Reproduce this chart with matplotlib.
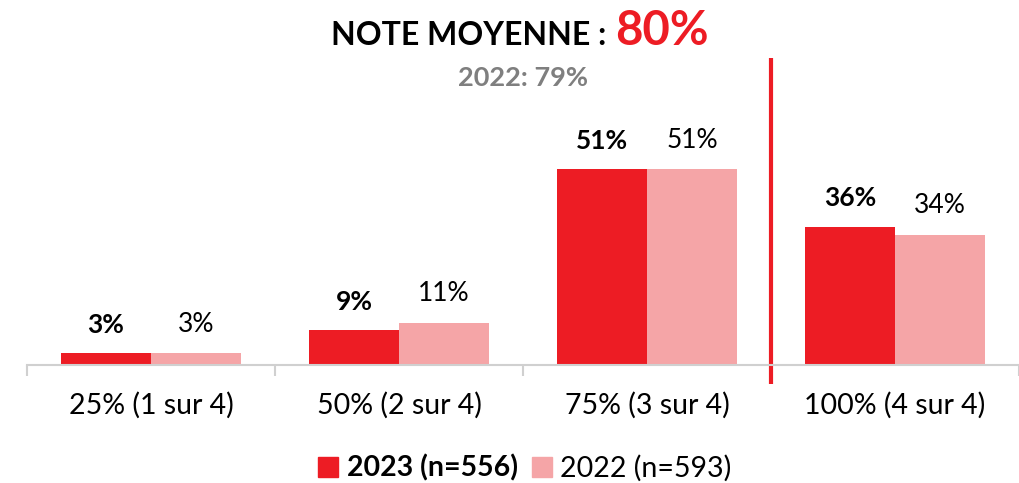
import numpy as np
import matplotlib.pyplot as plt
from matplotlib.patches import Patch

# Données
categories = ["25% (1 sur 4)", "50% (2 sur 4)", "75% (3 sur 4)", "100% (4 sur 4)"]
vals_2023 = [3, 9, 51, 36]
vals_2022 = [3, 11, 51, 34]
label_2023 = "2023 (n=556)"
label_2022 = "2022 (n=593)"
note_2023 = "80%"
note_2022 = "2022: 79%"

RED = "#ED1C24"
PINK = "#F5A5A7"
GREY = "#7F7F7F"
AXIS = "#D0D0D0"

plt.rcParams["font.family"] = ["Lato", "DejaVu Sans"]

fig = plt.figure(figsize=(10.2, 4.83), dpi=100)
ax = fig.add_axes([27 / 1020, 1 - 365 / 483, 992 / 1020, 307 / 483])

x = np.arange(len(categories))
w = 0.363
b1 = ax.bar(x - w / 2, vals_2023, w, color=RED)
b2 = ax.bar(x + w / 2, vals_2022, w, color=PINK)

for rect, v in zip(b1, vals_2023):
    ax.annotate(f"{v}%", (rect.get_x() + rect.get_width() / 2, v),
                xytext=(0, 12), textcoords="offset points", ha="center", va="bottom",
                fontsize=19, fontweight="bold", color="black")
for rect, v in zip(b2, vals_2022):
    ax.annotate(f"{v}%", (rect.get_x() + rect.get_width() / 2, v),
                xytext=(0, 12), textcoords="offset points", ha="center", va="bottom",
                fontsize=19, color="black")

ax.set_xlim(-0.5, len(categories) - 0.5)
ax.set_ylim(0, 80)
ax.set_yticks([])
for s in ["top", "right", "left"]:
    ax.spines[s].set_visible(False)
ax.spines["bottom"].set_color(AXIS)
ax.spines["bottom"].set_linewidth(1.5)

# ticks aux frontières des catégories
ax.set_xticks(np.arange(-0.5, len(categories), 1.0))
ax.set_xticklabels([])
ax.set_xticks(x, minor=True)
ax.set_xticklabels(categories, minor=True, fontsize=20.5)
ax.tick_params(axis="x", which="major", length=8, width=1.5, color=AXIS, direction="out")
ax.tick_params(axis="x", which="minor", length=0, pad=19)

# ligne verticale rouge
ax.plot([2.5, 2.5], [-5, 80], color=RED, lw=3, clip_on=False, solid_capstyle="butt")

# Titre
fig.text(606 / 1020, 1 - 45 / 483, "NOTE MOYENNE :", ha="right", va="baseline",
         fontsize=23, fontweight="bold", color="black")
fig.text(615 / 1020, 1 - 45 / 483, note_2023, ha="left", va="baseline",
         fontsize=34, fontweight="bold", color=RED)
fig.text(523 / 1020, 1 - 78 / 483, note_2022, ha="center", va="center",
         fontsize=19.5, fontweight="bold", color=GREY)

# Légende
handles = [Patch(color=RED), Patch(color=PINK)]
leg = fig.legend(handles, [label_2023, label_2022], loc="center",
                 bbox_to_anchor=(525 / 1020, 1 - 468 / 483), ncol=2, frameon=False,
                 fontsize=20.5, handlelength=0.7, handleheight=0.7, handletextpad=0.3,
                 columnspacing=0.5)
leg.get_texts()[0].set_fontweight("bold")

fig.savefig("out.png", dpi=100)
